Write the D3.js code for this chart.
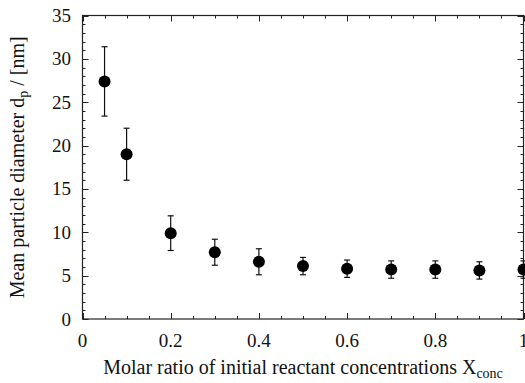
<!DOCTYPE html>
<html>
<head>
<meta charset="utf-8">
<script src="https://cdn.jsdelivr.net/npm/d3@7"></script>
<style>
  body { margin: 0; background: #fff; }
</style>
</head>
<body>
<div id="container"></div>
<script>
/* DATA */
const ratios = [0.05, 0.1, 0.2, 0.3, 0.4, 0.5, 0.6, 0.7, 0.8, 0.9, 1.0];
const diameters = [27.4, 19.0, 9.9, 7.7, 6.6, 6.1, 5.8, 5.7, 5.7, 5.6, 5.7];
const errors = [4.0, 3.0, 2.0, 1.5, 1.5, 1.0, 1.0, 1.0, 1.0, 1.0, 1.0];
const xTicks = [0, 0.2, 0.4, 0.6, 0.8, 1];
const yTicks = [0, 5, 10, 15, 20, 25, 30, 35];

const width = 525,
  height = 383,
  margin = { top: 15.5, bottom: 64, left: 82.5, right: 1.5 };

const FONT = "'Liberation Serif', 'DejaVu Serif', 'Times New Roman', serif";

const points = ratios.map((x, i) => ({ x, y: diameters[i], err: errors[i] }));

const svg = d3.select("#container")
  .append("svg")
  .attr("width", width)
  .attr("height", height)
  .attr("font-family", FONT)
  .style("font-family", FONT);

// scales
const xScale = d3.scaleLinear()
  .domain([0, 1])
  .range([margin.left, width - margin.right]);

const yScale = d3.scaleLinear()
  .domain([0, 35])
  .range([height - margin.bottom, margin.top]);

const x0 = margin.left, x1 = width - margin.right;
const y0 = height - margin.bottom, y1 = margin.top;

// minor + major ticks, pointing inward on all four sides
const xMinor = d3.range(0, 1.0001, 0.05);
const yMinor = d3.range(0, 35.001, 1);

const ticks = svg.append("g").attr("stroke", "#222").attr("stroke-width", 1);

xMinor.forEach(v => {
  const major = xTicks.some(t => Math.abs(t - v) < 1e-6);
  const len = major ? 6 : 3;
  const px = Math.round(xScale(v)) + 0.5;
  ticks.append("line").attr("x1", px).attr("x2", px).attr("y1", y0).attr("y2", y0 - len);
  ticks.append("line").attr("x1", px).attr("x2", px).attr("y1", y1).attr("y2", y1 + len);
});

yMinor.forEach(v => {
  const major = Math.abs(v % 5) < 1e-6;
  const len = major ? 6 : 3;
  const py = Math.round(yScale(v)) + 0.5;
  ticks.append("line").attr("x1", x0).attr("x2", x0 + len).attr("y1", py).attr("y2", py);
  ticks.append("line").attr("x1", x1).attr("x2", x1 - len).attr("y1", py).attr("y2", py);
});

// frame
svg.append("rect")
  .attr("x", x0)
  .attr("y", y1)
  .attr("width", x1 - x0)
  .attr("height", y0 - y1)
  .attr("fill", "none")
  .attr("stroke", "#222")
  .attr("stroke-width", 1.2);

// tick labels
svg.append("g")
  .selectAll("text")
  .data(xTicks)
  .join("text")
  .attr("x", d => xScale(d))
  .attr("y", 347)
  .attr("text-anchor", "middle")
  .attr("font-size", 19)
  .attr("fill", "#111")
  .text(d => d);

svg.append("g")
  .selectAll("text")
  .data(yTicks)
  .join("text")
  .attr("x", 71)
  .attr("y", d => yScale(d) + 6.5)
  .attr("text-anchor", "end")
  .attr("font-size", 19)
  .attr("fill", "#111")
  .text(d => d);

// axis titles
const xTitle = svg.append("text")
  .attr("x", (x0 + x1) / 2)
  .attr("y", 374)
  .attr("text-anchor", "middle")
  .attr("font-size", 20)
  .attr("fill", "#111");
xTitle.append("tspan").text("Molar ratio of initial reactant concentrations X");
xTitle.append("tspan").attr("font-size", 14).attr("dy", 4).text("conc");

const yTitle = svg.append("text")
  .attr("transform", `translate(24, ${(y0 + y1) / 2}) rotate(-90)`)
  .attr("text-anchor", "middle")
  .attr("font-size", 20)
  .attr("fill", "#111");
yTitle.append("tspan").text("Mean particle diameter d");
yTitle.append("tspan").attr("font-size", 14).attr("dy", 4).text("p");
yTitle.append("tspan").attr("dy", -4).text(" / [nm]");

// error bars
const bars = svg.append("g").attr("stroke", "#111").attr("stroke-width", 1.2);
bars.selectAll("line.stem")
  .data(points)
  .join("line")
  .attr("class", "stem")
  .attr("x1", d => xScale(d.x))
  .attr("x2", d => xScale(d.x))
  .attr("y1", d => yScale(d.y - d.err))
  .attr("y2", d => yScale(d.y + d.err));

bars.selectAll("line.capTop")
  .data(points)
  .join("line")
  .attr("class", "capTop")
  .attr("x1", d => xScale(d.x) - 3)
  .attr("x2", d => xScale(d.x) + 3)
  .attr("y1", d => yScale(d.y + d.err))
  .attr("y2", d => yScale(d.y + d.err));

bars.selectAll("line.capBot")
  .data(points)
  .join("line")
  .attr("class", "capBot")
  .attr("x1", d => xScale(d.x) - 3)
  .attr("x2", d => xScale(d.x) + 3)
  .attr("y1", d => yScale(d.y - d.err))
  .attr("y2", d => yScale(d.y - d.err));

// points
svg.append("g")
  .selectAll("circle")
  .data(points)
  .join("circle")
  .attr("cx", d => xScale(d.x))
  .attr("cy", d => yScale(d.y))
  .attr("r", 6)
  .attr("fill", "#000");
</script>
</body>
</html>
